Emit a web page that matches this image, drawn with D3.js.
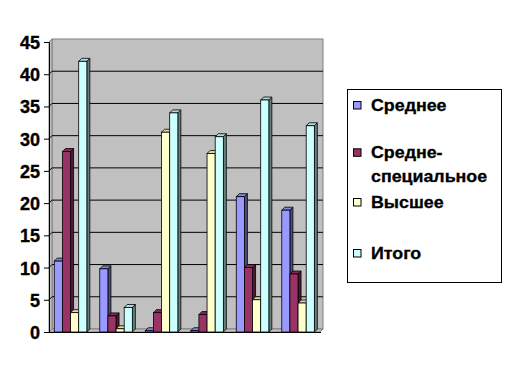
<!DOCTYPE html>
<html><head><meta charset="utf-8">
<script src="https://cdn.jsdelivr.net/npm/d3@7"></script>
<style>html,body{margin:0;padding:0;background:#fff;}svg{display:block;}</style>
</head><body>
<script>
const categories = ["1", "2", "3", "4", "5", "6"];
const seriesNames = ["Среднее", "Средне-специальное", "Высшее", "Итого"];
const sredneeValues = [11, 9.8, 0.2, 0.2, 21, 18.9];
const srednespecValues = [28, 2.5, 3, 2.7, 10, 9];
const vyssheeValues = [3, 0.5, 31, 27.7, 5, 4.5];
const itogoValues = [42, 3.8, 34, 30.3, 36, 32];
const yTicks = [0, 5, 10, 15, 20, 25, 30, 35, 40, 45];
const colors = ["#9999FF", "#993366", "#FFFFCC", "#CCFFFF"];

const seriesValues = [sredneeValues, srednespecValues, vyssheeValues, itogoValues];
const W = 512, H = 375, D = 3;
const svg = d3.select("body").append("svg").attr("width", W).attr("height", H);
const font = "'Liberation Sans', Arial, sans-serif";

const y = d3.scaleLinear().domain([0, 45]).range([332, 42]);
const x0 = d3.scaleBand().domain(categories).range([50, 323]).paddingInner(0.284).paddingOuter(0.142).align(0.33);
const x1 = d3.scaleBand().domain(d3.range(seriesNames.length)).range([0, x0.bandwidth()]);

const y0 = y(0);
// walls
const left = 49, right = 323 - D;
svg.append("rect").attr("x", left + D).attr("y", y(45) - D).attr("width", right - left).attr("height", y0 - y(45)).attr("fill", "#C0C0C0").attr("stroke", "#808080").attr("stroke-width", 1);
svg.append("path").attr("d", `M${left},${y(45)}L${left + D},${y(45) - D}L${left + D},${y0 - D}L${left},${y0}Z`).attr("fill", "#C0C0C0").attr("stroke", "#808080");
svg.append("path").attr("d", `M${left},${y0}L${left + D},${y0 - D}L${right + D},${y0 - D}L${right},${y0}Z`).attr("fill", "#C0C0C0").attr("stroke", "#808080");

// gridlines
svg.append("g").selectAll("path").data(yTicks.slice(1, -1)).join("path")
  .attr("d", v => `M${left},${y(v)}L${left + D},${y(v) - D}L${right + D},${y(v) - D}`)
  .attr("fill", "none").attr("stroke", "#000").attr("stroke-width", 1);

// axis
const axis = d3.axisLeft(y).tickValues(yTicks).tickSize(5).tickPadding(4).tickFormat(d3.format("d"));
const ag = svg.append("g").attr("transform", `translate(${left},0)`).call(axis);
ag.select(".domain").attr("stroke", "#000");
ag.selectAll(".tick line").attr("stroke", "#000");
ag.selectAll(".tick text").attr("font-family", font).attr("font-weight", "bold").attr("font-size", 18).attr("fill", "#000")
  .attr("stroke", "#000").attr("stroke-width", 0.35)
  .attr("x", -9).attr("dy", "0.36em");
svg.append("line").attr("x1", left).attr("x2", right + 1).attr("y1", y0 + 0.5).attr("y2", y0 + 0.5).attr("stroke", "#000");

// bars
const barData = [];
categories.forEach((c, ci) => seriesValues.forEach((vals, si) => barData.push({ c, si, v: vals[ci] })));
const bars = svg.append("g").selectAll("g").data(barData).join("g");
const shade = (col, k) => { const c = d3.rgb(col); return d3.rgb(c.r * k, c.g * k, c.b * k).formatHex(); };
bars.each(function (d) {
  const g = d3.select(this);
  const bx = x0(d.c) + x1(d.si), w = x1.bandwidth(), ty = y(d.v);
  g.append("path").attr("d", `M${bx + w},${ty}L${bx + w + D},${ty - D}L${bx + w + D},${y0 - D}L${bx + w},${y0}Z`)
    .attr("fill", shade(colors[d.si], 0.5)).attr("stroke", "#000").attr("stroke-width", 0.8);
  g.append("path").attr("d", `M${bx},${ty}L${bx + D},${ty - D}L${bx + w + D},${ty - D}L${bx + w},${ty}Z`)
    .attr("fill", shade(colors[d.si], 0.85)).attr("stroke", "#000").attr("stroke-width", 0.8);
  g.append("rect").attr("x", bx).attr("y", ty).attr("width", w).attr("height", y0 - ty)
    .attr("fill", colors[d.si]).attr("stroke", "#000").attr("stroke-width", 0.8);
});

// legend
svg.append("rect").attr("x", 347.5).attr("y", 89.5).attr("width", 154).attr("height", 193).attr("fill", "#fff").attr("stroke", "#000");
const legendY = [105, 164, 202, 253];
const lg = svg.append("g").selectAll("g").data(seriesNames).join("g");
lg.each(function (name, i) {
  const g = d3.select(this);
  const parts = name.includes("-") ? [name.slice(0, name.indexOf("-") + 1), name.slice(name.indexOf("-") + 1)] : [name];
  const firstY = legendY[i] - (parts.length - 1) * 11.7;
  g.append("rect").attr("x", 353.5).attr("y", firstY - 3.5).attr("width", 7.5).attr("height", 7.5)
    .attr("fill", colors[i]).attr("stroke", "#000").attr("stroke-width", 1);
  parts.forEach((p, k) => {
    g.append("text").attr("transform", `translate(371,${firstY + k * 23.4}) scale(1.08,1)`).attr("dy", "0.36em")
      .attr("font-family", font).attr("font-weight", "bold").attr("font-size", 16.5).attr("fill", "#000")
      .attr("stroke", "#000").attr("stroke-width", 0.3).text(p);
  });
});
</script>
</body></html>
